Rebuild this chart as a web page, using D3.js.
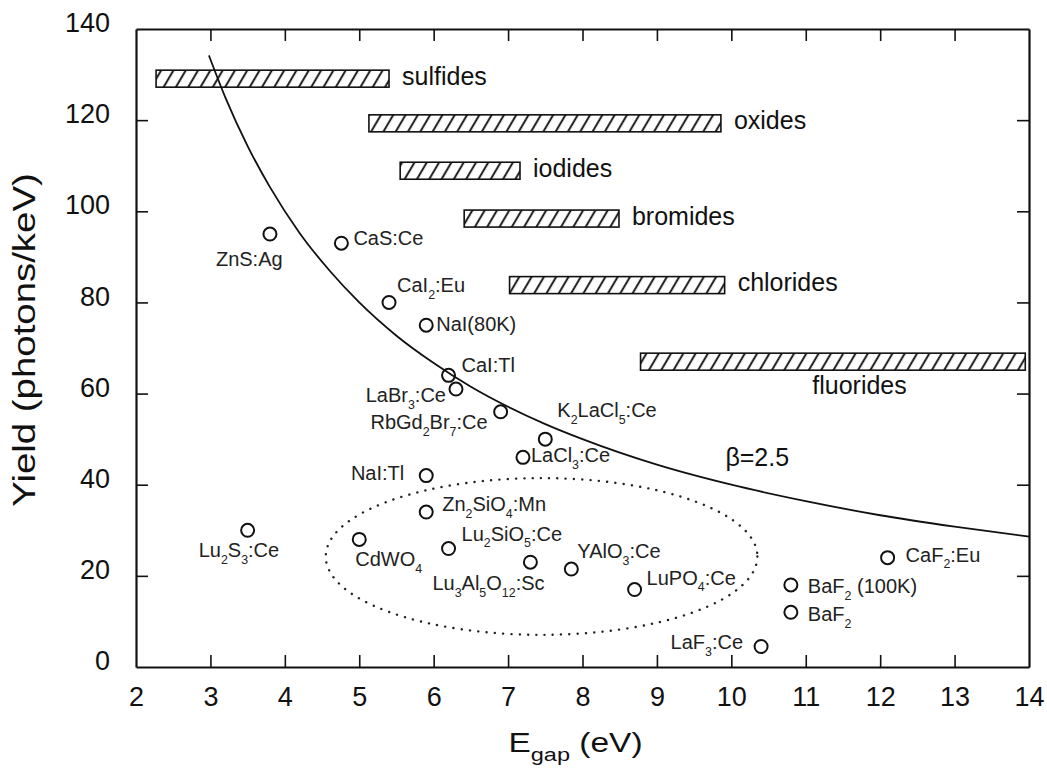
<!DOCTYPE html>
<html>
<head>
<meta charset="utf-8">
<script src="https://cdn.jsdelivr.net/npm/d3@7"></script>
<style>
  body { margin: 0; background: #fff; }
  svg { display: block; font-family: "Liberation Sans", Arial, Helvetica, sans-serif; }
</style>
</head>
<body>
<svg id="chart" width="1047" height="770"></svg>
<script>
// ---- axis ticks ----
const xTicks = [2, 3, 4, 5, 6, 7, 8, 9, 10, 11, 12, 13, 14];
const yTicks = [0, 20, 40, 60, 80, 100, 120, 140];

// ---- scintillator materials: band gap (eV) and light yield (photons/keV) ----
const materials = [
  "ZnS:Ag", "CaS:Ce", "CaI_2:Eu", "NaI(80K)", "CaI:Tl", "LaBr_3:Ce",
  "RbGd_2Br_7:Ce", "K_2LaCl_5:Ce", "LaCl_3:Ce", "NaI:Tl", "Zn_2SiO_4:Mn",
  "CdWO_4", "Lu_2SiO_5:Ce", "Lu_3Al_5O_12:Sc", "YAlO_3:Ce", "LuPO_4:Ce",
  "LaF_3:Ce", "BaF_2 (100K)", "BaF_2", "CaF_2:Eu", "Lu_2S_3:Ce"
];
const egap = [
  3.8, 4.76, 5.4, 5.9, 6.2, 6.3,
  6.9, 7.5, 7.2, 5.9, 5.9,
  5.0, 6.2, 7.3, 7.85, 8.7,
  10.4, 10.8, 10.8, 12.1, 3.5
];
const lightYield = [
  95, 93, 80, 75, 64, 61,
  56, 50, 46, 42, 34,
  28, 26, 23, 21.5, 17,
  4.5, 18, 12, 24, 30
];

// label placement relative to each marker: [dx px, dy px (baseline), anchor]
const labelOffsets = [
  [-54, 32, "start"], [12, 2, "start"], [8, -10, "start"], [10, 6, "start"],
  [13, -3, "start"], [-10, 13, "end"], [-13, 17, "end"], [12, -22, "start"],
  [8, 5, "start"], [-22, 4, "end"], [16, -1, "start"], [-4, 27, "start"],
  [13, -8, "start"], [-98, 28, "start"], [6, -11, "start"], [12, -5, "start"],
  [-18, 3, "end"], [17, 8, "start"], [17, 9, "start"], [18, 4, "start"],
  [-49, 27, "start"]
];

// ---- band-gap ranges of material families ----
const families = ["sulfides", "oxides", "iodides", "bromides", "chlorides", "fluorides"];
const familyStart = [2.27, 5.13, 5.55, 6.41, 7.02, 8.78];
const familyEnd = [5.40, 9.86, 7.16, 8.49, 9.91, 13.95];
const familyYield = [129.1, 119.3, 108.9, 98.4, 83.8, 67.0];

// ---- theoretical limit curve, beta = 2.5 ----
const curveEgap = [2.98, 3.2, 3.5, 3.8, 4.2, 4.6, 5.0, 5.5, 6.0, 6.5, 7.0, 7.5, 8.0, 9.0, 10.0, 11.0, 12.0, 13.0, 14.0];
const curveYield = [134.2, 125.0, 114.3, 105.3, 95.2, 87.0, 80.0, 72.7, 66.7, 61.5, 57.1, 53.3, 50.0, 44.4, 40.0, 36.4, 33.3, 30.8, 28.6];
const curveLabel = "\u03B2=2.5";
const curveLabelAt = [9.92, 44];

// ---- dotted region enclosing oxide scintillators ----
const ellipseCenter = [7.45, 24.25];
const ellipseRadii = [2.9, 17.2];

// ---------------------------------------------------------------
const svg = d3.select("#chart");
const L = 136, R = 1029, T = 29, B = 667;

const x = d3.scaleLinear().domain([2, 14]).range([L, R]);
const y = d3.scaleLinear().domain([0, 140]).range([B, T]);

// text with "_n" subscripts rendered as lowered tspans
function richText(sel, str, size) {
  const parts = str.split(/(_\d+)/).filter(p => p.length);
  let low = false;
  const sh = size * 0.34;
  parts.forEach(p => {
    if (p[0] === "_") {
      sel.append("tspan").attr("font-size", size * 0.62)
        .attr("dy", low ? 0 : sh).text(p.slice(1));
      low = true;
    } else {
      sel.append("tspan").attr("dy", low ? -sh : 0).text(p);
      low = false;
    }
  });
}

// hatch pattern for the family bars
const defs = svg.append("defs");
defs.append("pattern")
  .attr("id", "hatch")
  .attr("patternUnits", "userSpaceOnUse")
  .attr("width", 10.6).attr("height", 10)
  .attr("patternTransform", "rotate(30.5)")
  .append("line")
  .attr("x1", 5).attr("y1", -2).attr("x2", 5).attr("y2", 12)
  .attr("stroke", "#111").attr("stroke-width", 1.9);

// axes: labelled bottom/left, tick-only top/right, ticks pointing inward
const tickFont = 27;
const axB = svg.append("g").attr("transform", `translate(0,${B})`)
  .call(d3.axisBottom(x).tickValues(xTicks).tickSizeInner(-12).tickSizeOuter(0).tickPadding(20).tickFormat(d3.format("d")));
const axL = svg.append("g").attr("transform", `translate(${L},0)`)
  .call(d3.axisLeft(y).tickValues(yTicks).tickSizeInner(-12).tickSizeOuter(0).tickPadding(26).tickFormat(d3.format("d")));
const axT = svg.append("g").attr("transform", `translate(0,${T})`)
  .call(d3.axisTop(x).tickValues(xTicks).tickSizeInner(-12).tickSizeOuter(0).tickFormat(""));
const axR = svg.append("g").attr("transform", `translate(${R},0)`)
  .call(d3.axisRight(y).tickValues(yTicks).tickSizeInner(-12).tickSizeOuter(0).tickFormat(""));

[axB, axL, axT, axR].forEach(g => {
  g.select(".domain").attr("stroke", "#111").attr("stroke-width", 2.2);
  g.selectAll(".tick line").attr("stroke", "#111").attr("stroke-width", 1.6);
  g.selectAll(".tick text").attr("font-size", tickFont).attr("fill", "#111")
    .attr("font-family", "Liberation Sans, Arial, sans-serif");
});
axL.selectAll(".tick text").attr("dy", "0.1em");
// hide tick marks at the corners
axB.selectAll(".tick").filter(d => d === 2 || d === 14).select("line").remove();
axT.selectAll(".tick").filter(d => d === 2 || d === 14).select("line").remove();
axL.selectAll(".tick").filter(d => d === 0 || d === 140).select("line").remove();
axR.selectAll(".tick").filter(d => d === 0 || d === 140).select("line").remove();

// axis titles
const xt = svg.append("text")
  .attr("transform", `translate(${(L + R) / 2 - 7},752) scale(1.24,1)`)
  .attr("text-anchor", "middle").attr("font-size", 27).attr("fill", "#111");
xt.append("tspan").text("E");
xt.append("tspan").attr("font-size", 19).attr("dy", 9).text("gap");
xt.append("tspan").attr("dy", -9).text(" (eV)");

svg.append("text")
  .attr("transform", `translate(35,340) rotate(-90) scale(1.2,1)`)
  .attr("text-anchor", "middle").attr("font-size", 32).attr("fill", "#111")
  .text("Yield (photons/keV)");

// theoretical curve
const curvePts = curveEgap.map((e, i) => [e, curveYield[i]]);
svg.append("path")
  .datum(curvePts)
  .attr("fill", "none").attr("stroke", "#111").attr("stroke-width", 1.8)
  .attr("d", d3.line().x(d => x(d[0])).y(d => y(d[1])).curve(d3.curveMonotoneX));

svg.append("text")
  .attr("x", x(curveLabelAt[0])).attr("y", y(curveLabelAt[1]))
  .attr("font-size", 25).attr("fill", "#111").text(curveLabel);

// family bars
const barH = 17;
const famG = svg.append("g");
families.forEach((f, i) => {
  famG.append("rect")
    .attr("x", x(familyStart[i])).attr("y", y(familyYield[i]) - barH / 2)
    .attr("width", x(familyEnd[i]) - x(familyStart[i])).attr("height", barH)
    .attr("fill", "url(#hatch)").attr("stroke", "#111").attr("stroke-width", 1.6);
  const below = f === "fluorides";
  famG.append("text")
    .attr("x", below ? x(familyEnd[i]) - 213 : x(familyEnd[i]) + 13)
    .attr("y", y(familyYield[i]) + (below ? 32 : 6))
    .attr("font-size", 25).attr("fill", "#111").text(f);
});

// dotted ellipse
svg.append("ellipse")
  .attr("cx", x(ellipseCenter[0])).attr("cy", y(ellipseCenter[1]))
  .attr("rx", x(ellipseCenter[0] + ellipseRadii[0]) - x(ellipseCenter[0]))
  .attr("ry", y(ellipseCenter[1]) - y(ellipseCenter[1] + ellipseRadii[1]))
  .attr("fill", "none").attr("stroke", "#222").attr("stroke-width", 2.4)
  .attr("stroke-linecap", "round").attr("stroke-dasharray", "0.1,8.2");

// material markers and labels
const ptG = svg.append("g");
materials.forEach((m, i) => {
  const cx = x(egap[i]), cy = y(lightYield[i]);
  ptG.append("circle").attr("cx", cx).attr("cy", cy).attr("r", 6.5)
    .attr("fill", "none").attr("stroke", "#111").attr("stroke-width", 2);
  const o = labelOffsets[i];
  const t = ptG.append("text").attr("x", cx + o[0]).attr("y", cy + o[1])
    .attr("text-anchor", o[2]).attr("font-size", 20).attr("fill", "#222");
  richText(t, m, 20);
});
</script>
</body>
</html>
